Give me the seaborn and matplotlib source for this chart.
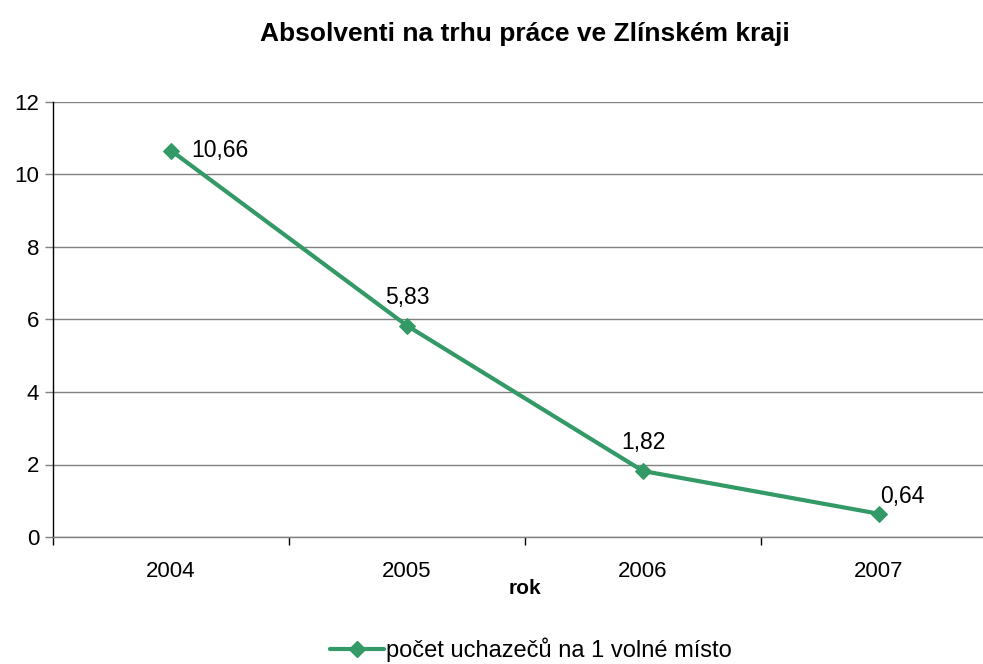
import matplotlib
matplotlib.use("Agg")
import pandas as pd
import seaborn as sns
from matplotlib import pyplot as plt
from matplotlib.lines import Line2D

# data
years = ["2004", "2005", "2006", "2007"]
ratio = [10.66, 5.83, 1.82, 0.64]
label_offsets = [(20, 0, "left"), (0, 28, "center"), (0, 29, "center"), (1, 17, "left")]

df = pd.DataFrame({"rok": years, "ratio": ratio})

sns.set_theme(style="white")
plt.rcParams["font.family"] = ["Liberation Sans", "DejaVu Sans"]
plt.rcParams["text.color"] = "black"
plt.rcParams["xtick.color"] = "black"
plt.rcParams["ytick.color"] = "black"
plt.rcParams["axes.labelcolor"] = "black"

green = "#339966"
fig = plt.figure(figsize=(9.83, 6.64), dpi=100)
ax = fig.add_axes([53 / 983, 1 - 537 / 664, 944 / 983, 435 / 664])

sns.lineplot(data=df, x="rok", y="ratio", color=green, lw=3, marker="D",
             markersize=8, markeredgecolor=green, ax=ax, sort=False)

# data labels with czech decimal comma
for i, v in enumerate(ratio):
    dx, dy, ha = label_offsets[i]
    ax.annotate(f"{v:.2f}".replace(".", ","), (i, v), xytext=(dx, dy),
                textcoords="offset pixels", ha=ha, va="center", fontsize=16.5)

ax.set_xlim(-0.5, 3.5)
ax.set_ylim(0, 12)
ax.set_yticks(range(0, 13, 2))
ax.yaxis.grid(True, color="#808080", lw=1)
ax.set_axisbelow(True)

ax.set_xticks(range(len(years)))
ax.set_xticklabels(years)
ax.set_xticks([-0.5, 0.5, 1.5, 2.5, 3.5], minor=True)
ax.tick_params(axis="x", which="major", length=0, pad=17, labelsize=16)
ax.tick_params(axis="x", which="minor", length=6, width=1, color="black", direction="out", bottom=True)
ax.tick_params(axis="y", length=6, width=1, color="#808080", direction="out", left=True, labelsize=16, pad=4)

for s in ["top", "right"]:
    ax.spines[s].set_visible(False)
ax.spines["left"].set_color("black")
ax.spines["bottom"].set_color("#808080")
ax.spines["left"].set_linewidth(1)
ax.spines["bottom"].set_linewidth(1)

ax.set_xlabel("rok", fontsize=15, fontweight="bold", va="center")
ax.xaxis.set_label_coords(0.5, -51 / 435)
ax.set_ylabel("")
ax.set_title("Absolventi na trhu práce ve Zlínském kraji", fontsize=19,
             fontweight="bold", pad=44)

handle = Line2D([], [], color=green, lw=3, marker="D", markersize=8)
fig.legend([handle], ["počet uchazečů na 1 volné místo"], loc="center",
           bbox_to_anchor=(531 / 983, 1 - 650 / 664), frameon=False,
           fontsize=17, handlelength=2.3, handletextpad=0.1)

fig.savefig("out.png", dpi=100)
